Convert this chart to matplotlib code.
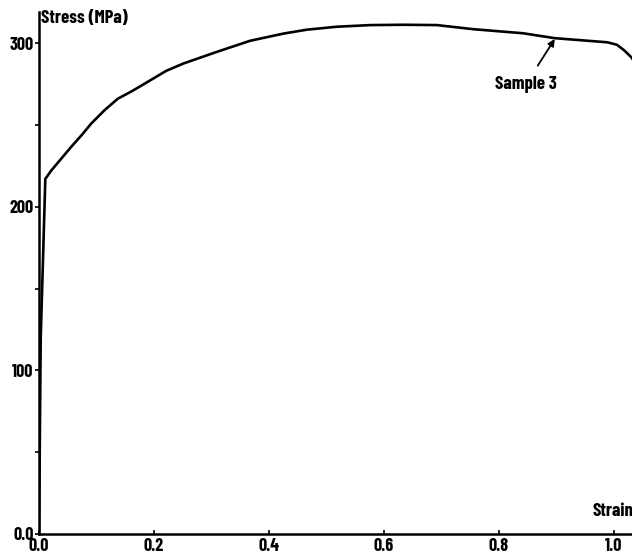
import numpy as np
import matplotlib.pyplot as plt

# Data
strain = np.array([0.0, 0.003, 0.011, 0.021, 0.039, 0.056, 0.074, 0.091, 0.114,
                   0.137, 0.161, 0.190, 0.221, 0.251, 0.309, 0.367, 0.425,
                   0.466, 0.518, 0.576, 0.634, 0.692, 0.755, 0.842, 0.897,
                   0.988, 1.005, 1.018, 1.031, 1.05])
stress = np.array([0.0, 120, 217, 222, 229.5, 236.6, 243.7, 250.9, 259,
                   266, 270.5, 276.5, 283, 287.5, 294.6, 301.4, 305.8,
                   308.2, 310, 311, 311.2, 311, 308.5, 306, 303,
                   300.5, 299, 295.5, 291, 280])

xticks = [0.0, 0.2, 0.4, 0.6, 0.8, 1.0]
xticklabels = ["0.0", "0.2", "0.4", "0.6", "0.8", "1.0"]
yticks = [0, 100, 200, 300]
yticklabels = ["0.0", "100", "200", "300"]

font = ['Liberation Sans Narrow', 'Barlow Condensed', 'Liberation Sans', 'DejaVu Sans']
plt.rcParams['font.family'] = font
plt.rcParams['font.weight'] = 'bold'
fs_tick = 13
fs_text = 13.5

fig = plt.figure(figsize=(6.32, 5.59), dpi=100)
ax = fig.add_axes([39 / 632, 25 / 559, (632 - 39) / 632, (534 - 12) / 559])

ax.plot(strain, stress, color='black', lw=1.9, solid_joinstyle='round')

ax.set_xlim(0, (632 - 39) / 575)
ax.set_ylim(0, 319)

ax.spines['top'].set_visible(False)
ax.spines['right'].set_visible(False)
ax.spines['left'].set_linewidth(1.8)
ax.spines['bottom'].set_linewidth(1.8)

ax.set_xticks(xticks)
ax.set_xticklabels(xticklabels, fontsize=fs_tick, fontweight='bold')
ax.set_yticks(yticks)
ax.set_yticklabels(yticklabels, fontsize=fs_tick, fontweight='bold')
ax.set_yticks([50, 150, 250], minor=True)
ax.tick_params(axis='x', direction='in', length=3, width=1.2, pad=3)
ax.tick_params(axis='y', which='both', direction='out', length=3, width=1.2, pad=1)

# axis titles
ax.text(0.004, 0.987, "Stress (MPa)", transform=ax.transAxes, fontsize=fs_text,
        fontweight='bold', ha='left', va='center')
ax.text(0.934, 0.043, "Strain", transform=ax.transAxes, fontsize=fs_text,
        fontweight='bold', ha='left', va='center', clip_on=False)

ax.annotate("Sample 3", xy=(0.897, 302.5), xytext=(0.847, 275),
            fontsize=fs_text, fontweight='bold', ha='center', va='center',
            arrowprops=dict(arrowstyle='-|>', color='black', lw=1.3,
                            mutation_scale=10, shrinkA=6, shrinkB=0))

fig.savefig("out.png", dpi=100)
